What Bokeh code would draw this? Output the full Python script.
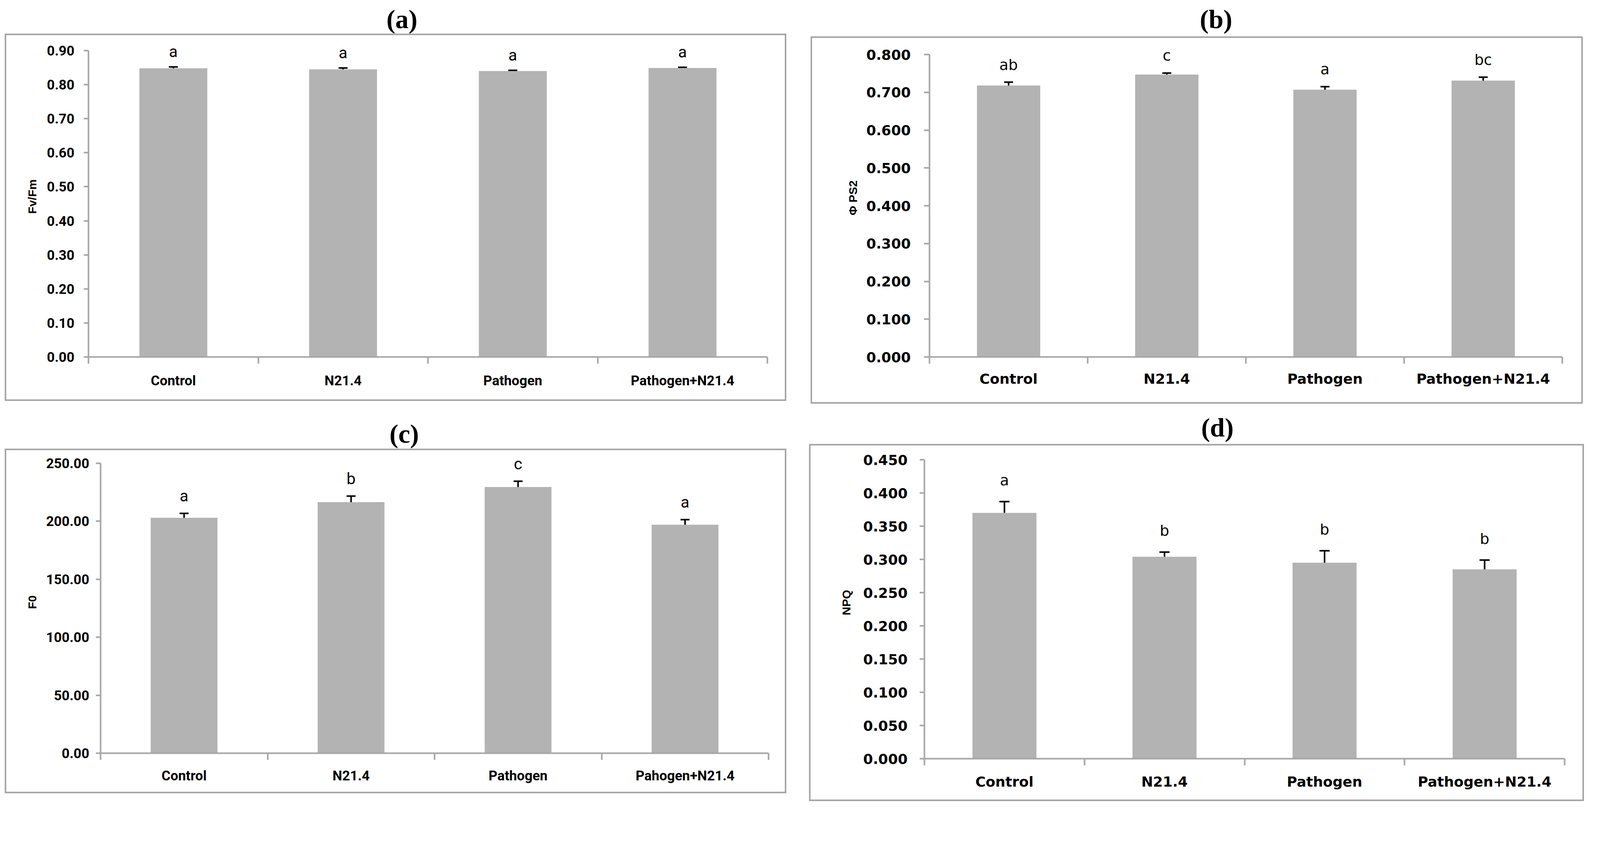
from bokeh.plotting import figure
from bokeh.models import (Range1d, FixedTicker, NumeralTickFormatter, ColumnDataSource,
                          Whisker, TeeHead, Spacer, LinearAxis)
from bokeh.layouts import row, column
from bokeh.core.properties import value
from bokeh.embed import file_html
from bokeh.resources import INLINE

# ---------------- data ----------------
categories = ["Control", "N21.4", "Pathogen", "Pathogen+N21.4"]
categories_c = ["Control", "N21.4", "Pathogen", "Pahogen+N21.4"]

fvfm_mean = [0.848, 0.845, 0.840, 0.849]
fvfm_err = [0.004, 0.004, 0.002, 0.002]
fvfm_letters = ["a", "a", "a", "a"]
fvfm_ticks = [0.00, 0.10, 0.20, 0.30, 0.40, 0.50, 0.60, 0.70, 0.80, 0.90]

phips2_mean = [0.718, 0.747, 0.707, 0.731]
phips2_err = [0.009, 0.004, 0.008, 0.009]
phips2_letters = ["ab", "c", "a", "bc"]
phips2_ticks = [0.0, 0.1, 0.2, 0.3, 0.4, 0.5, 0.6, 0.7, 0.8]

f0_mean = [203.0, 216.5, 229.5, 197.0]
f0_err = [3.8, 5.2, 5.0, 4.4]
f0_letters = ["a", "b", "c", "a"]
f0_ticks = [0, 50, 100, 150, 200, 250]

npq_mean = [0.370, 0.304, 0.295, 0.285]
npq_err = [0.017, 0.007, 0.018, 0.014]
npq_letters = ["a", "b", "b", "b"]
npq_ticks = [0.000, 0.050, 0.100, 0.150, 0.200, 0.250, 0.300, 0.350, 0.400, 0.450]

GREY = "#a6a6a6"
BAR = "#b3b3b3"
S = 0.941  # css px per picture px


def px(v):
    return int(round(v * S))


NARROW = "Roboto"
WIDE = "DejaVu Sans"


def title_fig(text, g, h, tx, ty):
    W, H = px(g["w"]), px(h)
    mbl, mbr = px(g["mbl"]), px(g["mbr"])
    t = figure(width=W, height=H, x_range=Range1d(-mbl, W - mbr), y_range=Range1d(0, H),
               toolbar_location=None, output_backend="svg",
               min_border_left=mbl, min_border_right=mbr, min_border_top=0, min_border_bottom=0,
               x_axis_location=None, y_axis_location=None)
    t.outline_line_color = None
    t.grid.grid_line_color = None
    t.background_fill_color = None
    t.border_fill_color = None
    t.text(x=[px(tx) - mbl], y=[H - px(ty)], text=[text], text_font=value("Liberation Serif"),
           text_font_style="bold", text_font_size=f"{px(72)}px", text_align="center",
           text_baseline="middle", text_line_height=1.0, text_color="black")
    return t


def panel(cats, mean, err, letters, yticks, fmt, ylabel, g):
    n = len(cats)
    centers = [i + 0.5 for i in range(n)]
    bounds = [float(i) for i in range(n + 1)]
    W, H = px(g["w"]), px(g["h"])
    mbl, mbr, mbt, mbb = px(g["mbl"]), px(g["mbr"]), 6, px(g["mbb"])
    hf = H - mbt - mbb
    yend = yticks[-1] * hf / px(g["dist"])
    p = figure(width=W, height=H, x_range=Range1d(0, n), y_range=Range1d(0, yend),
               toolbar_location=None, output_backend="svg",
               min_border_left=mbl, min_border_right=mbr,
               min_border_top=mbt, min_border_bottom=mbb,
               x_axis_location=None, y_axis_location=None)
    p.outline_line_color = None
    p.grid.grid_line_color = None
    p.background_fill_color = None
    p.border_fill_color = None
    p.styles = {"box-shadow": "inset 0 0 0 4px " + GREY}

    fs = px(g["fs"])
    xa = LinearAxis(ticker=FixedTicker(ticks=centers, minor_ticks=bounds),
                    major_label_overrides={c: lab for c, lab in zip(centers, cats)})
    xa.axis_line_color = GREY
    xa.axis_line_width = 4
    xa.major_tick_line_color = None
    xa.major_tick_out = 0
    xa.major_tick_in = 0
    xa.minor_tick_line_color = GREY
    xa.minor_tick_line_width = 4
    xa.minor_tick_out = px(18)
    xa.minor_tick_in = 0
    xa.major_label_standoff = max(0, px(g["xoff"]) - px(18) - int(round(fs * g["k"] / 2)))
    xa.major_label_text_font = g["font"]
    xa.major_label_text_font_style = "bold"
    xa.major_label_text_font_size = f"{fs}px"
    xa.major_label_text_color = "black"
    p.add_layout(xa, "below")

    ya = LinearAxis(ticker=FixedTicker(ticks=yticks), formatter=NumeralTickFormatter(format=fmt),
                    bounds=(0, yticks[-1]), axis_label=ylabel)
    ya.axis_line_color = GREY
    ya.axis_line_width = 4
    ya.major_tick_line_color = GREY
    ya.major_tick_line_width = 4
    ya.major_tick_out = px(g["tick"])
    ya.major_tick_in = 0
    ya.minor_tick_line_color = None
    ya.major_label_standoff = px(g["ystand"])
    ya.major_label_text_font = g["font"]
    ya.major_label_text_font_style = "bold"
    ya.major_label_text_font_size = f"{fs}px"
    ya.major_label_text_color = "black"
    ya.axis_label_text_font = "Liberation Sans"
    ya.axis_label_text_font_style = "bold"
    ya.axis_label_text_font_size = f"{px(32)}px"
    ya.axis_label_text_color = "black"
    ya.axis_label_standoff = g["als"]
    p.add_layout(ya, "left")

    p.vbar(x=centers, top=mean, width=0.4, bottom=0, fill_color=BAR, line_color=None)

    upper = [m + e for m, e in zip(mean, err)]
    lower = mean if g["upper_only"] else [m - e for m, e in zip(mean, err)]
    src = ColumnDataSource(dict(x=centers, upper=upper, lower=lower))
    w = Whisker(source=src, base="x", upper="upper", lower="lower",
                line_color="black", line_width=4,
                upper_head=TeeHead(size=px(g["cap"]), line_color="black", line_width=4),
                lower_head=None if g["upper_only"] else TeeHead(size=px(g["cap"]), line_color="black", line_width=4))
    p.add_layout(w)

    ly = [u + g["loff"] for u in upper]
    p.text(x=centers, y=ly, text=letters, text_align="center", text_baseline="middle",
           text_font=value(g["lfont"]), text_font_size=f"{px(g['lfs'])}px", text_color="black")
    return p


# geometry in reference-picture pixels (converted with S)
geo_a = dict(w=2126, h=999, mbl=227, mbr=52, mbb=120, dist=833, tick=13, ystand=25,
             als=18, xoff=64, font=NARROW, k=1.17, fs=37, lfont=NARROW, lfs=44,
             loff=0.045, cap=24, upper_only=False)
geo_b = dict(w=2101, h=999, mbl=323, mbr=56, mbb=128, dist=822, tick=15, ystand=36,
             als=15, xoff=60, font=WIDE, k=1.164, fs=38, lfont=WIDE, lfs=40,
             loff=0.046, cap=24, upper_only=False)
geo_c = dict(w=2126, h=937, mbl=260, mbr=49, mbb=109, dist=788, tick=13, ystand=18,
             als=16, xoff=61, font=NARROW, k=1.17, fs=37, lfont=NARROW, lfs=44,
             loff=15.0, cap=24, upper_only=False)
geo_d = dict(w=2108, h=971, mbl=314, mbr=53, mbb=116, dist=813, tick=13, ystand=33,
             als=24, xoff=63, font=WIDE, k=1.164, fs=38, lfont=WIDE, lfs=40,
             loff=0.032, cap=28, upper_only=True)

pa = panel(categories, fvfm_mean, fvfm_err, fvfm_letters, fvfm_ticks, "0.00", "Fv/Fm", geo_a)
pb = panel(categories, phips2_mean, phips2_err, phips2_letters, phips2_ticks, "0.000", "\u03a6 PS2", geo_b)
pc = panel(categories_c, f0_mean, f0_err, f0_letters, f0_ticks, "0.00", "F0", geo_c)
pd_ = panel(categories, npq_mean, npq_err, npq_letters, npq_ticks, "0.000", "NPQ", geo_d)

top0 = 8 / S
ta = title_fig("(a)", geo_a, 100 - top0, 1084 - 21, 60 - top0)
tb = title_fig("(b)", geo_b, 107 - top0, 3285 - 2213, 60 - top0)
tc = title_fig("(c)", geo_c, 1228 - 1106, 1084 - 21, 1187 - 1106)
td = title_fig("(d)", geo_d, 1215 - 1106, 3292 - 2208, 1170 - 1106)

left0 = px(21) - 8
row1 = row(Spacer(width=left0, height=10), column(ta, pa),
           Spacer(width=px(2213) - px(2147), height=10), column(tb, pb))
row2 = row(Spacer(width=left0, height=10), column(tc, pc),
           Spacer(width=px(2208) - px(2147), height=10), column(td, pd_))
layout = column(row1, row2)

open("out.html", "w").write(file_html(layout, INLINE))
